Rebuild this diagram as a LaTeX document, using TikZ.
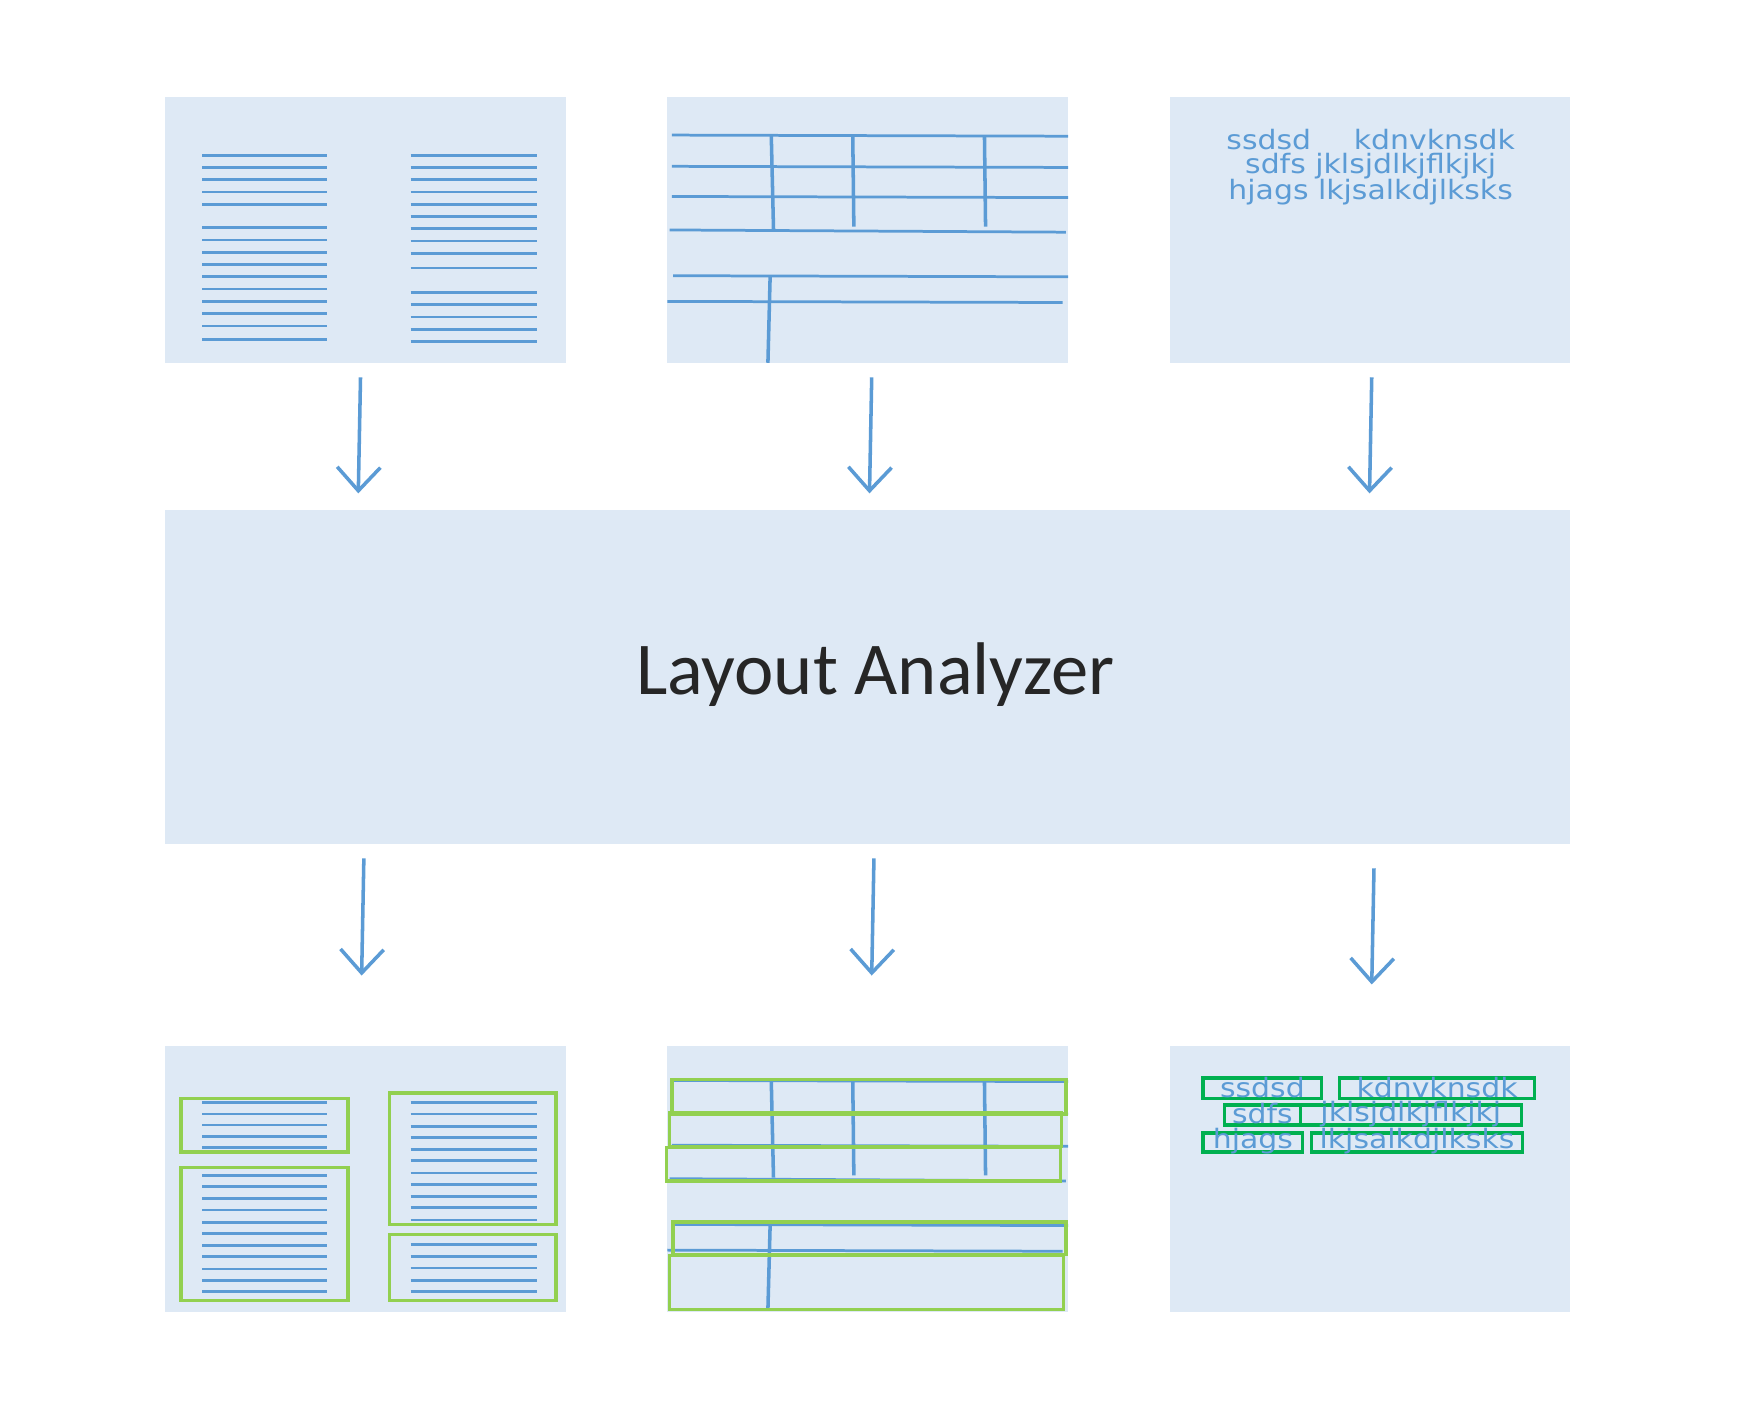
\documentclass[tikz,border=0pt]{standalone}
\usepackage{fontspec}
\newfontfamily\carl{Carlito}
\newfontfamily\dvs[FakeStretch=1.12]{DejaVu Sans}
\usetikzlibrary{arrows.meta}
\definecolor{pan}{HTML}{DEE9F5}
\definecolor{bl}{HTML}{5B9BD5}
\definecolor{lg}{HTML}{92D050}
\definecolor{dg}{HTML}{00B050}
\begin{document}
\begin{tikzpicture}[x=0.01cm,y=-0.01cm,
  panel/.style={fill=pan,draw=none},
  ln/.style={draw=bl,line width=0.7pt},
  vl/.style={draw=bl,line width=0.9pt},
  gb/.style={draw=lg,line width=0.9pt},
  db/.style={draw=dg,line width=0.9pt},
  arr/.style={draw=bl,line width=0.9pt,-{Straight Barb[length=6pt,width=11pt,line width=0.9pt]}},
  txt/.style={text=bl,font=\dvs\fontsize{6.8}{7}\selectfont,inner sep=0pt}]
\useasboundingbox (0,0) rectangle (1567,1262);
% panels
\fill[panel] (148,87) rectangle (507,325);
\fill[panel] (598,87) rectangle (957,325);
\fill[panel] (1048,87) rectangle (1407,325);
\fill[panel] (148,457) rectangle (1407,756);
\node[font=\carl\fontsize{19}{22}\selectfont,text=black!85] (la) at (784,604) {Layout Analyzer};
\fill[panel] (148,937) rectangle (507,1175);
\fill[panel] (598,937) rectangle (957,1175);
\fill[panel] (1048,937) rectangle (1407,1175);
% arrows
\coordinate (a1) at (323,338); \coordinate (b1) at (321,442);
\coordinate (a2) at (781,338); \coordinate (b2) at (779,442);
\coordinate (a3) at (1229,338); \coordinate (b3) at (1227,442);
\coordinate (c1) at (326,769); \coordinate (d1) at (324,874);
\coordinate (c2) at (783,769); \coordinate (d2) at (781,874);
\coordinate (c3) at (1231,778); \coordinate (d3) at (1229,882);
\foreach \s/\e in {a1/b1,a2/b2,a3/b3,c1/d1,c2/d2,c3/d3} \draw[arr] (\s) -- (\e);
% panel 1 top
\foreach \y in {139,150,161,172,183,204,215,226,237,248,259,270,281,292,304} \draw[ln] (181,\y) -- (293,\y);
\foreach \y in {139,150,161,172,183,194,205,216,227,240,262,273,284,295,306} \draw[ln] (368,\y) -- (481,\y);
% panel 1 bottom
\foreach \y in {988,998,1008,1018,1028,1053,1063,1074,1084,1095,1105,1116,1126,1137,1147,1157} \draw[ln] (181,\y) -- (293,\y);
\foreach \y in {988,998,1009,1019,1030,1040,1051,1061,1072,1082,1093,1115,1126,1136,1147,1157} \draw[ln] (368,\y) -- (481,\y);
\draw[gb] (162,984) rectangle (312,1032);
\draw[gb] (162,1046) rectangle (312,1165);
\draw[gb] (349,979) rectangle (498,1097);
\draw[gb] (349,1106) rectangle (498,1165);
% panel 2 top
\draw[ln] (602,121) -- (957,122);
\draw[ln] (602,149) -- (957,150);
\draw[ln] (602,176) -- (957,177);
\draw[ln] (600,206) -- (955,208);
\draw[ln] (603,247) -- (957,248);
\draw[ln] (598,270) -- (952,271);
\draw[vl] (691,121) -- (693,205);
\draw[vl] (764,121) -- (765,203);
\draw[vl] (882,121) -- (883,203);
\draw[vl] (690,247) -- (688,325);
% panel 2 bottom
\draw[ln] (602,968) -- (957,969);
\draw[ln] (602,997) -- (957,998);
\draw[ln] (602,1026) -- (957,1027);
\draw[ln] (600,1056) -- (955,1058);
\draw[ln] (603,1097) -- (957,1098);
\draw[ln] (598,1120) -- (952,1121);
\draw[vl] (691,968) -- (693,1055);
\draw[vl] (764,968) -- (765,1053);
\draw[vl] (882,968) -- (883,1053);
\draw[vl] (690,1097) -- (688,1173);
\draw[gb] (602,967) rectangle (955,998);
\draw[gb] (600,997) rectangle (951,1027);
\draw[gb] (597,1028) rectangle (950,1058);
\draw[gb] (603,1095) rectangle (955,1124);
\draw[gb] (600,1125) rectangle (953,1173);
% panel 3 top
\node[txt] (t1) at (1228,125) {ssdsd\hspace{1.6em}kdnvknsdk};
\node[txt] (t2) at (1228,149) {sdfs jklsjdlkjflkjkj};
\node[txt] (t3) at (1228,172) {hjags lkjsalkdjlksks};
% panel 3 bottom
\foreach \xa/\ya/\xb/\yb/\w in {1078/966/1184/984/ssdsd,1200/966/1375/984/kdnvknsdk,1097/990/1165/1008/sdfs,1165/990/1363/1008/jklsjdlkjflkjkj,1078/1015/1167/1032/hjags,1175/1015/1364/1032/lkjsalkdjlksks}{
  \draw[db] (\xa,\ya) rectangle (\xb,\yb);
  \node[txt] at ({(\xa+\xb)/2},{(\ya+\yb)/2-1}) {\w};
}
\end{tikzpicture}
\end{document}
